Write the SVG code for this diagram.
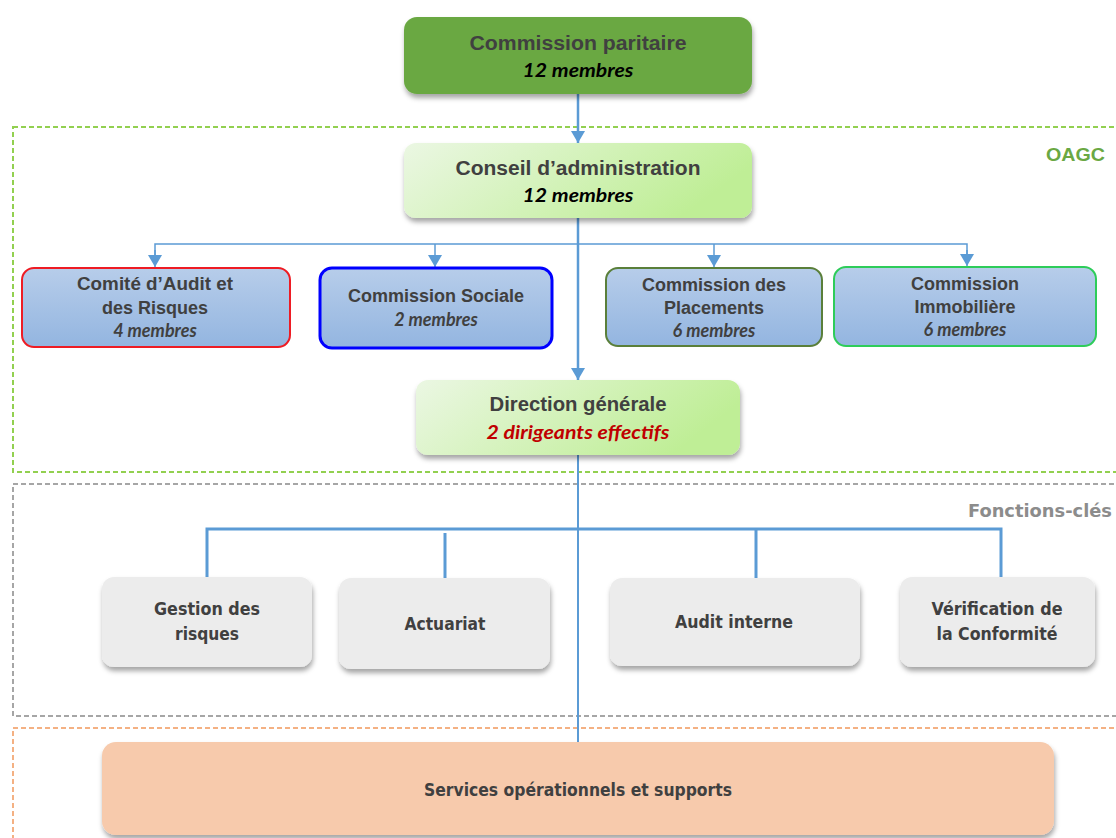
<svg xmlns="http://www.w3.org/2000/svg" width="1116" height="838" viewBox="0 0 1116 838">
<defs>
<linearGradient id="gGreen" x1="0" y1="0" x2="1" y2="0.3">
<stop offset="0" stop-color="#ebf7e3"/><stop offset="1" stop-color="#bfee96"/>
</linearGradient>
<linearGradient id="gBlue" x1="0" y1="0" x2="0" y2="1">
<stop offset="0" stop-color="#b7cdea"/><stop offset="1" stop-color="#93b5e0"/>
</linearGradient>
<filter id="sh" x="-10%" y="-10%" width="120%" height="140%">
<feDropShadow dx="1" dy="4" stdDeviation="2.5" flood-color="#000" flood-opacity="0.35"/>
</filter>
<marker id="ah" viewBox="0 0 14 12" refX="7" refY="12" markerWidth="14" markerHeight="12" markerUnits="userSpaceOnUse" orient="auto">
<path d="M0,0 L14,0 L7,12 Z" fill="#5b9bd5" transform="rotate(-90 7 6) translate(0 0)"/>
</marker>
<marker id="ad" viewBox="0 0 14 12" refX="7" refY="12" markerWidth="14" markerHeight="12" markerUnits="userSpaceOnUse" orient="0">
<path d="M0,0 L14,0 L7,12 Z" fill="#5b9bd5"/>
</marker>
<style>
.t{font-family:"Liberation Sans",Arial,sans-serif;font-weight:bold;font-size:18px;fill:#404040;text-anchor:middle}
.b{font-size:20px}
.m{font-family:Lato,"Open Sans",sans-serif;font-weight:bold;font-style:italic;font-size:18px;text-anchor:middle}
.f{font-family:"DejaVu Sans Condensed","Liberation Sans",sans-serif;font-weight:bold;font-size:17px;fill:#404040;text-anchor:middle}
.c{stroke:#5b9bd5;fill:none}
</style>
</defs>

<g id="zones" fill="none" stroke-width="2" stroke-dasharray="5,3">
<rect x="13" y="127" width="1120" height="345" stroke="#92d050"/>
<rect x="13" y="484" width="1120" height="232" stroke="#a6a6a6"/>
<rect x="13" y="728" width="1120" height="140" stroke="#f4b183"/>
</g>
<text x="1105" y="161" font-family="Liberation Sans,Arial,sans-serif" font-weight="bold" font-size="19" fill="#6aa843" text-anchor="end" textLength="59" lengthAdjust="spacingAndGlyphs">OAGC</text>
<text x="1112" y="517" font-family="DejaVu Sans Condensed,Liberation Sans,sans-serif" font-weight="bold" font-size="18" fill="#8c8c8c" text-anchor="end" textLength="144" lengthAdjust="spacingAndGlyphs">Fonctions-clés</text>

<g id="connectors">
<line class="c" x1="578" y1="94" x2="578" y2="143" stroke-width="2.5" marker-end="url(#ad)"/>
<line class="c" x1="578" y1="218" x2="578" y2="380" stroke-width="2.5" marker-end="url(#ad)"/>
<path class="c" d="M155,262 V244 H967 V262" stroke-width="1.5"/>
<line class="c" x1="155" y1="250" x2="155" y2="267" stroke-width="1.5" marker-end="url(#ad)"/>
<line class="c" x1="435" y1="244" x2="435" y2="267" stroke-width="1.5" marker-end="url(#ad)"/>
<line class="c" x1="714" y1="244" x2="714" y2="267" stroke-width="1.5" marker-end="url(#ad)"/>
<line class="c" x1="967" y1="250" x2="967" y2="266" stroke-width="1.5" marker-end="url(#ad)"/>
<line class="c" x1="578" y1="455" x2="578" y2="742" stroke-width="2"/>
<path class="c" d="M207,577 V529 H1001 V577" stroke-width="3"/>
<line class="c" x1="445" y1="533" x2="445" y2="578" stroke-width="3"/>
<line class="c" x1="756" y1="529" x2="756" y2="578" stroke-width="3"/>
</g>

<g id="commission-paritaire">
<rect x="404" y="17" width="348" height="77" rx="13" fill="#6aa843" filter="url(#sh)"/>
<text class="t b" x="578" y="50" textLength="217" lengthAdjust="spacingAndGlyphs">Commission  paritaire</text>
<text class="m" x="578" y="77" fill="#000" textLength="111" lengthAdjust="spacingAndGlyphs">12 membres</text>
</g>

<g id="conseil">
<rect x="404" y="143" width="348" height="75" rx="12" fill="url(#gGreen)" filter="url(#sh)"/>
<text class="t b" x="578" y="175" textLength="245" lengthAdjust="spacingAndGlyphs">Conseil  d’administration</text>
<text class="m" x="578" y="202" fill="#000" textLength="111" lengthAdjust="spacingAndGlyphs">12 membres</text>
</g>

<g id="comite-audit">
<rect x="22" y="268" width="268" height="79" rx="12" fill="url(#gBlue)" stroke="#ee1c24" stroke-width="2"/>
<text class="t" x="155" y="290" font-size="17" textLength="156" lengthAdjust="spacingAndGlyphs">Comité d’Audit et</text>
<text class="t" x="155" y="314" font-size="17">des Risques</text>
<text class="m" x="155" y="337" font-size="17" fill="#404040">4 membres</text>
</g>

<g id="commission-sociale">
<rect x="320" y="268" width="232" height="80" rx="12" fill="url(#gBlue)" stroke="#0000ff" stroke-width="3"/>
<text class="t" x="436" y="302" font-size="17">Commission Sociale</text>
<text class="m" x="436" y="326" font-size="17" fill="#404040">2 membres</text>
</g>

<g id="commission-placements">
<rect x="606" y="268" width="216" height="78" rx="12" fill="url(#gBlue)" stroke="#5a7f3a" stroke-width="2"/>
<text class="t" x="714" y="291" font-size="17">Commission des</text>
<text class="t" x="714" y="314" font-size="17">Placements</text>
<text class="m" x="714" y="337" font-size="17" fill="#404040">6 membres</text>
</g>

<g id="commission-immobiliere">
<rect x="834" y="267" width="262" height="79" rx="12" fill="url(#gBlue)" stroke="#2ecc5a" stroke-width="2"/>
<text class="t" x="965" y="290" font-size="17">Commission</text>
<text class="t" x="965" y="313" font-size="17">Immobilière</text>
<text class="m" x="965" y="336" font-size="17" fill="#404040">6 membres</text>
</g>

<g id="direction-generale">
<rect x="416" y="380" width="324" height="75" rx="12" fill="url(#gGreen)" filter="url(#sh)"/>
<text class="t b" x="578" y="411" textLength="177" lengthAdjust="spacingAndGlyphs">Direction générale</text>
<text class="m" x="578" y="439" fill="#c00000" textLength="183" lengthAdjust="spacingAndGlyphs">2 dirigeants  effectifs</text>
</g>

<g id="gestion-risques">
<rect x="102" y="577" width="210" height="90" rx="12" fill="#ececec" filter="url(#sh)"/>
<text class="f" x="207" y="615" textLength="106" lengthAdjust="spacingAndGlyphs">Gestion des</text>
<text class="f" x="207" y="640" textLength="64" lengthAdjust="spacingAndGlyphs">risques</text>
</g>

<g id="actuariat">
<rect x="339" y="578" width="211" height="91" rx="12" fill="#ececec" filter="url(#sh)"/>
<text class="f" x="445" y="630" textLength="81" lengthAdjust="spacingAndGlyphs">Actuariat</text>
</g>

<g id="audit-interne">
<rect x="610" y="578" width="250" height="88" rx="12" fill="#ececec" filter="url(#sh)"/>
<text class="f" x="734" y="628" textLength="118" lengthAdjust="spacingAndGlyphs">Audit interne</text>
</g>

<g id="verification-conformite">
<rect x="900" y="577" width="195" height="90" rx="12" fill="#ececec" filter="url(#sh)"/>
<text class="f" x="997" y="615" textLength="131" lengthAdjust="spacingAndGlyphs">Vérification de</text>
<text class="f" x="997" y="640" textLength="121" lengthAdjust="spacingAndGlyphs">la Conformité</text>
</g>

<g id="services">
<rect x="102" y="742" width="952" height="93" rx="14" fill="#f7caac" filter="url(#sh)"/>
<text class="f" x="578" y="796" textLength="308" lengthAdjust="spacingAndGlyphs">Services opérationnels et supports</text>
</g>
</svg>
